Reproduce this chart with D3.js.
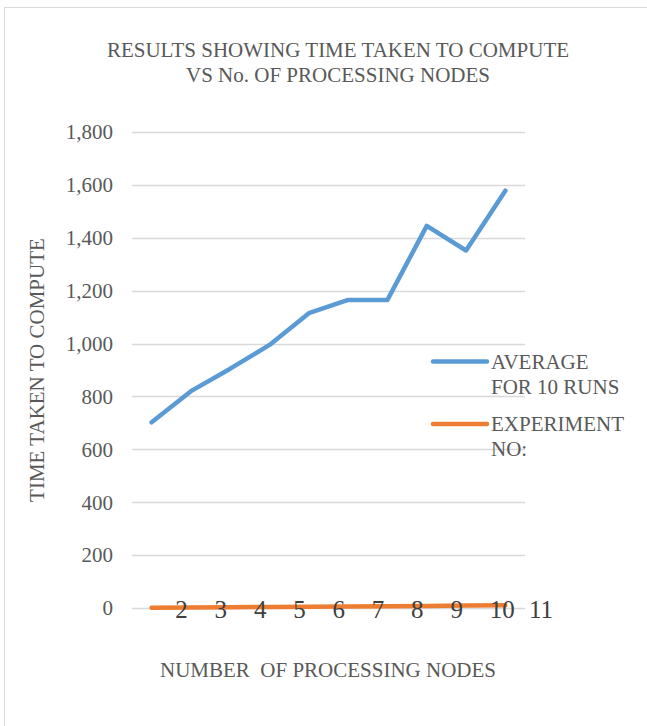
<!DOCTYPE html>
<html>
<head>
<meta charset="utf-8">
<script src="https://cdn.jsdelivr.net/npm/d3@7"></script>
<style>
  html, body { margin: 0; padding: 0; background: #fff; }
  svg { display: block; }
  text { font-family: "Liberation Serif", "Times New Roman", serif; }
</style>
</head>
<body>
<svg id="chart" width="647" height="726"></svg>
<script>
// ---- data ----
const categories = [1, 2, 3, 4, 5, 6, 7, 8, 9, 10];
const averageFor10Runs = [702, 820, 905, 995, 1115, 1165, 1165, 1445, 1352, 1578];
const experimentNo = [1, 2, 3, 4, 5, 6, 7, 8, 9, 10];
const xTickLabels = ["2", "3", "4", "5", "6", "7", "8", "9", "10", "11"];
const yTicks = [0, 200, 400, 600, 800, 1000, 1200, 1400, 1600, 1800];
const seriesNames = [["AVERAGE", "FOR 10 RUNS"], ["EXPERIMENT", "NO:"]];
const titleLines = ["RESULTS SHOWING TIME TAKEN TO COMPUTE", "VS No. OF PROCESSING NODES"];
const yTitle = "TIME TAKEN TO COMPUTE";
const xTitle = "NUMBER\u00a0\u00a0OF PROCESSING NODES";

// ---- layout ----
const svg = d3.select("#chart");
const plot = { left: 132, right: 525, top: 132, bottom: 608 };
const colors = ["#5b9bd5", "#ed7d31"];
const textColor = "#595959";

// chart border
svg.append("rect")
  .attr("x", 4.5).attr("y", 7.5)
  .attr("width", 700).attr("height", 800)
  .attr("fill", "#fff").attr("stroke", "#d9d9d9").attr("stroke-width", 1);

const x = d3.scaleBand().domain(categories).range([plot.left, plot.right]).padding(0);
const y = d3.scaleLinear().domain([0, 1800]).range([plot.bottom, plot.top]);

// gridlines
svg.append("g").selectAll("line").data(yTicks).join("line")
  .attr("x1", plot.left).attr("x2", plot.right)
  .attr("y1", d => Math.round(y(d)) + 0.5).attr("y2", d => Math.round(y(d)) + 0.5)
  .attr("stroke", "#d9d9d9").attr("stroke-width", 1.3);

// y tick labels
svg.append("g").selectAll("text").data(yTicks).join("text")
  .attr("x", 113).attr("y", d => y(d))
  .attr("dy", "0.35em")
  .attr("text-anchor", "end")
  .attr("font-size", 21)
  .attr("fill", textColor)
  .text(d => d3.format(",")(d));

// lines
const line = d3.line()
  .x((d, i) => x(categories[i]) + x.bandwidth() / 2)
  .y(d => y(d));

[averageFor10Runs, experimentNo].forEach((s, k) => {
  svg.append("path")
    .datum(s)
    .attr("d", line)
    .attr("fill", "none")
    .attr("stroke", colors[k])
    .attr("stroke-width", 4.5)
    .attr("stroke-linecap", "round")
    .attr("stroke-linejoin", "round");
});

// x tick labels (drawn after the lines, left-aligned after each category boundary)
svg.append("g").selectAll("text").data(xTickLabels).join("text")
  .attr("x", (d, i) => x(categories[i]) + x.bandwidth() + 4)
  .attr("y", 618)
  .attr("text-anchor", "start")
  .attr("font-size", 25)
  .attr("fill", "#404040")
  .text(d => d);

// title
svg.append("g").selectAll("text").data(titleLines).join("text")
  .attr("x", 338).attr("y", (d, i) => 57 + i * 25)
  .attr("text-anchor", "middle")
  .attr("font-size", 21)
  .attr("fill", textColor)
  .text(d => d);

// axis titles
svg.append("text")
  .attr("transform", "translate(44,370) rotate(-90)")
  .attr("text-anchor", "middle")
  .attr("font-size", 21)
  .attr("fill", textColor)
  .text(yTitle);

svg.append("text")
  .attr("x", 328).attr("y", 677)
  .attr("text-anchor", "middle")
  .attr("font-size", 21)
  .attr("fill", textColor)
  .text(xTitle);

// legend
const legendY = [361.5, 424];
seriesNames.forEach((lines, k) => {
  const g = svg.append("g");
  g.append("line")
    .attr("x1", 433).attr("x2", 487)
    .attr("y1", legendY[k]).attr("y2", legendY[k])
    .attr("stroke", colors[k]).attr("stroke-width", 4.5)
    .attr("stroke-linecap", "round");
  lines.forEach((t, j) => {
    g.append("text")
      .attr("x", 491).attr("y", legendY[k] + 7 + j * 25)
      .attr("font-size", 21)
      .attr("fill", textColor)
      .text(t);
  });
});
</script>
</body>
</html>
